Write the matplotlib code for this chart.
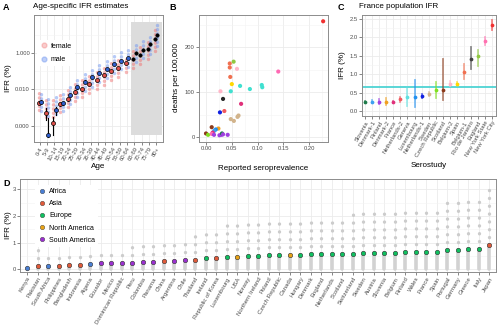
import numpy as np
import matplotlib
matplotlib.use("Agg")
import matplotlib.pyplot as plt
from matplotlib.lines import Line2D
from matplotlib.ticker import FixedLocator, NullFormatter

plt.rcParams["font.family"] = ["Liberation Sans", "DejaVu Sans"]

# ---------------- data: panel A (log10 IFR %) ----------------
ages = ["0-4", "5-9", "10-14", "15-19", "20-24", "25-29", "30-34", "35-39", "40-44",
        "45-49", "50-54", "55-59", "60-64", "65-69", "70-74", "75-79", "80+"]
female_mean = [-2.73, -3.32, -3.83, -2.83, -2.55, -2.13, -2.0, -1.71, -1.49, -1.23, -1.01, -0.83, -0.55, -0.35, -0.09, 0.22, 0.77]
male_mean = [-2.68, -4.51, -3.14, -2.77, -2.31, -1.89, -1.58, -1.34, -1.08, -0.9, -0.61, -0.42, -0.29, 0.02, 0.17, 0.50, 0.99]
female_ci_lo = [-2.82, -3.69, -4.5, -2.92, -2.62, -2.2, -2.07, -1.77, -1.55, -1.29, -1.07, -0.88, -0.6, -0.4, -0.14, 0.17, 0.72]
female_ci_hi = [-2.64, -3.05, -3.5, -2.74, -2.48, -2.06, -1.93, -1.65, -1.43, -1.17, -0.95, -0.78, -0.5, -0.3, -0.04, 0.27, 0.82]
male_ci_lo = [-2.77, -4.6, -3.4, -2.86, -2.38, -1.96, -1.65, -1.4, -1.14, -0.96, -0.67, -0.47, -0.34, -0.03, 0.12, 0.45, 0.94]
male_ci_hi = [-2.59, -3.6, -2.95, -2.68, -2.24, -1.82, -1.51, -1.28, -1.02, -0.84, -0.55, -0.37, -0.24, 0.07, 0.22, 0.55, 1.04]
# spread of the individual estimates (cloud)
female_lo = [-3.15, -3.5, -3.55, -3.25, -3.0, -2.65, -2.45, -2.2, -2.0, -1.75, -1.5, -1.3, -1.05, -0.8, -0.6, -0.35, 0.1]
female_hi = [-2.15, -2.6, -2.6, -2.3, -2.0, -1.7, -1.5, -1.25, -1.0, -0.8, -0.55, -0.35, -0.15, 0.1, 0.35, 0.7, 1.25]
male_lo = [-3.2, -3.45, -3.35, -3.2, -2.8, -2.4, -2.1, -1.85, -1.6, -1.4, -1.1, -0.9, -0.75, -0.5, -0.3, -0.05, 0.4]
male_hi = [-2.1, -2.55, -2.45, -2.2, -1.8, -1.4, -1.1, -0.85, -0.6, -0.4, -0.15, 0.05, 0.2, 0.5, 0.7, 1.0, 1.55]

# ---------------- data: panel B ----------------
sero = [0.227, 0.140, 0.0535, 0.046, 0.046, 0.060, 0.047, 0.050, 0.066, 0.085, 0.108, 0.109, 0.048,
        0.028, 0.033, 0.0355, 0.027, 0.068, 0.048, 0.054, 0.061, 0.063, 0.011, 0.000, 0.004, 0.024,
        0.019, 0.016, 0.013, 0.011, 0.0155, 0.026, 0.030, 0.031, 0.042, 0.033]
deaths = [258, 146, 168, 164, 155, 152, 134, 118, 114, 107, 116, 111, 102,
          102, 85, 58, 55, 74, 40, 36, 45, 48, 22, 8, 5, 19,
          17, 14, 10, 7, 5, 4, 5, 8, 5, 6]
b_colors = ["#F03030", "#FF69B4", "#90C840", "#F07050", "#F07050", "#FFB6C8", "#F07050", "#FFD700",
            "#40E0D0", "#40E0D0", "#40E0D0", "#40E0D0", "#40E0D0", "#FFB6C8", "#262626", "#F05A60",
            "#1020E0", "#E0307A", "#D2B48C", "#D2B48C", "#D2B48C", "#D2B48C", "#8B3A1A", "#8B3A1A",
            "#80E020", "#F0A020", "#2090F0", "#3DA0F0", "#E0307A", "#FF69B4", "#A040E0", "#A040E0",
            "#A040E0", "#1E7B4A", "#A040E0", "#A040E0"]

# ---------------- data: panel C ----------------
studies = ["Slovenia", "Denmark-1", "Finland", "Denmark-2", "France", "Netherlands-2", "Geneva",
           "Luxembourg", "Netherlands-1", "Sweden", "Czech Republic", "Scotland", "Belgium-2",
           "Spain", "Belgium-1", "Rio de Janeiro", "England", "New York State", "New York City"]
c_ifr = [0.234, 0.25, 0.25, 0.25, 0.25, 0.315, 0.39, 0.39, 0.41, 0.46, 0.56, 0.57, 0.745, 0.745,
         1.06, 1.4, 1.5, 1.89, 2.32]
c_lo = [0.21, 0.21, 0.18, 0.17, 0.22, 0.24, 0.14, 0.10, 0.36, 0.42, 0.36, 0.30, 0.68, 0.70,
        0.88, 1.15, 1.22, 1.80, 2.19]
c_hi = [0.27, 0.29, 0.32, 0.34, 0.28, 0.39, 0.64, 0.84, 0.46, 0.51, 0.79, 1.40, 0.82, 0.79,
        1.26, 1.74, 1.65, 2.00, 2.46]
c_colors = ["#1E7B4A", "#3DA0F0", "#A040E0", "#F0A020", "#E0307A", "#F05A60", "#60E0E0",
            "#2090F0", "#1020E0", "#D2B48C", "#80E020", "#8B3A1A", "#FFB6C8", "#FFD700",
            "#F07050", "#404040", "#90C840", "#FF70B0", "#F03030"]
france_ifr = 0.645

# ---------------- data: panel D ----------------
countries = ["Kenya", "Pakistan", "South Africa", "Philippines", "Bangladesh", "Indonesia", "Algeria",
             "Ecuador", "Mexico", "Dominican Republic", "Peru", "Colombia", "Panama", "China",
             "Argentina", "Chile", "Thailand", "Ireland", "Republic of Korea", "Luxembourg", "USA",
             "Norway", "Northern Ireland", "Poland", "Czech Republic", "Canada", "Hungary", "Denmark",
             "England", "Netherlands", "Scotland", "Switzerland", "Sweden", "Austria", "Slovenia",
             "Belgium", "Finland", "Wales", "France", "Spain", "Portugal", "Germany", "Greece",
             "Italy", "Japan"]
continent = ["Africa", "Asia", "Africa", "Asia", "Asia", "Asia", "Africa",
             "South America", "South America", "South America", "South America", "South America",
             "South America", "Asia", "South America", "South America", "Asia", "Europe", "Asia",
             "Europe", "North America", "Europe", "Europe", "Europe", "Europe", "North America",
             "Europe", "Europe", "Europe", "Europe", "Europe", "Europe", "Europe", "Europe", "Europe",
             "Europe", "Europe", "Europe", "Europe", "Europe", "Europe", "Europe", "Europe",
             "Europe", "Asia"]
d_ifr = [0.06, 0.12, 0.14, 0.14, 0.16, 0.16, 0.20, 0.22, 0.22, 0.22, 0.25, 0.26, 0.26, 0.30,
         0.31, 0.35, 0.36, 0.41, 0.44, 0.47, 0.47, 0.51, 0.51, 0.52, 0.53, 0.53, 0.53, 0.57,
         0.58, 0.58, 0.58, 0.58, 0.60, 0.60, 0.61, 0.61, 0.64, 0.64, 0.65, 0.65, 0.72, 0.73,
         0.77, 0.77, 0.90]
d_alt_hi = [0.30, 0.75, 0.50, 0.52, 0.60, 0.62, 0.70, 0.78, 0.80, 0.80, 0.88, 0.90, 0.93, 1.05,
            1.16, 1.20, 1.29, 1.46, 1.60, 1.67, 1.71, 1.84, 1.81, 1.84, 1.86, 1.86, 1.86, 2.00,
            2.05, 2.05, 2.05, 2.10, 2.16, 2.16, 2.16, 2.19, 2.27, 2.27, 2.30, 2.34, 2.52, 2.60,
            2.73, 2.75, 3.20]
cont_names = ["Africa", "Asia", "Europe", "North America", "South America"]
cont_colors = ["#4A7FD4", "#E05A3A", "#10C060", "#E8A317", "#9B30D0"]

GRID = "#EBEBEB"
TXT = "#4D4D4D"
DOTS = (0, (0.05, 1.15))


def style(ax):
    for s in ax.spines.values():
        s.set_color("#8C8C8C")
        s.set_linewidth(0.7)
    ax.tick_params(which="major", length=2, width=0.5, color="#555555",
                   labelsize=4.2, labelcolor=TXT, pad=1)
    ax.tick_params(which="minor", length=0)
    ax.grid(True, which="major", color=GRID, lw=0.6)
    ax.grid(True, which="minor", color="#F3F3F3", lw=0.4)
    ax.set_axisbelow(True)


fig = plt.figure(figsize=(5, 3.34), dpi=100)
W, H = 500, 334


def add_ax(l, t, r, b):
    return fig.add_axes([l / W, 1 - b / H, (r - l) / W, (b - t) / H])


def ftext(x, y, s, **kw):
    fig.text(x / W, 1 - y / H, s, **kw)


# ================= A =================
axA = add_ax(34, 15, 163, 142)
style(axA)
xa = np.arange(len(ages))
off = 0.18
axA.add_patch(plt.Rectangle((12.5, 10 ** -4.52), 4.25, 10 ** 1.72 - 10 ** -4.52,
                            color="#DCDCDC", lw=0, zorder=0.8))
for i in xa:
    axA.plot([i - off] * 2, [10 ** female_lo[i], 10 ** female_hi[i]], color="#F07070", alpha=0.5,
             lw=2.5, ls=DOTS, dash_capstyle="round", zorder=2)
    axA.plot([i + off] * 2, [10 ** male_lo[i], 10 ** male_hi[i]], color="#7096F0", alpha=0.5,
             lw=2.5, ls=DOTS, dash_capstyle="round", zorder=2)
    axA.plot([i - off] * 2, [10 ** female_ci_lo[i], 10 ** female_ci_hi[i]], color="black", lw=0.8, zorder=3)
    axA.plot([i + off] * 2, [10 ** male_ci_lo[i], 10 ** male_ci_hi[i]], color="black", lw=0.8, zorder=3)
    old = i >= 13
    axA.plot(i - off, 10 ** female_mean[i], "o", ms=2.9 if not old else 2.4,
             mfc="black" if old else "#E0504A", mec="black", mew=0.5, zorder=4)
    axA.plot(i + off, 10 ** male_mean[i], "o", ms=2.9 if not old else 2.4,
             mfc="black" if old else "#3060D0", mec="black", mew=0.5, zorder=4)
axA.set_yscale("log")
axA.set_ylim(10 ** -4.9, 10 ** 2.09)
axA.set_xlim(-0.8, 16.95)
axA.yaxis.set_major_locator(FixedLocator([1e-4, 1e-2, 1]))
axA.set_yticklabels(["0.000", "0.010", "1.000"])
axA.yaxis.set_minor_locator(FixedLocator([1e-3, 1e-1, 10]))
axA.yaxis.set_minor_formatter(NullFormatter())
axA.set_xticks(xa)
axA.set_xticklabels(ages, rotation=60, ha="right", rotation_mode="anchor")
hA = [Line2D([], [], ls="", marker="o", ms=3.5, color="#F07070", alpha=0.35),
      Line2D([], [], ls="", marker="o", ms=3.5, color="#7096F0", alpha=0.45)]
axA.legend(hA, ["female", "male"], loc="upper left", bbox_to_anchor=(0.0, 0.83), frameon=True,
           facecolor="white", edgecolor="none", framealpha=1, fontsize=5, handletextpad=0.3,
           handlelength=1.2, labelspacing=0.9, borderpad=0.4)

# ================= B =================
axB = add_ax(199, 15, 328, 142)
style(axB)
axB.scatter(sero, deaths, s=9, c=b_colors, linewidths=0, zorder=3)
axB.set_xlim(-0.0136, 0.2364)
axB.set_ylim(-11, 272)
axB.set_xticks([0, 0.05, 0.10, 0.15, 0.20])
axB.set_xticklabels(["0.00", "0.05", "0.10", "0.15", "0.20"])
axB.set_yticks([0, 100, 200])
axB.xaxis.set_minor_locator(FixedLocator([0.025, 0.075, 0.125, 0.175, 0.225]))
axB.yaxis.set_minor_locator(FixedLocator([50, 150, 250]))

# ================= C =================
axC = add_ax(362, 15, 496, 116)
style(axC)
xc = np.arange(len(studies))
axC.axhspan(france_ifr - 0.026, france_ifr + 0.026, color="#4CD3D3", alpha=0.9, lw=0, zorder=1.5)
for i in xc:
    axC.plot([i, i], [c_lo[i], c_hi[i]], color=c_colors[i], lw=1.3, alpha=0.6, zorder=2)
    axC.plot(i, c_ifr[i], "o", ms=2.7, color=c_colors[i], mew=0, zorder=3)
axC.set_xlim(-0.45, 18.55)
axC.set_ylim(-0.135, 2.6)
axC.set_yticks([0, 0.5, 1.0, 1.5, 2.0, 2.5])
axC.set_yticklabels(["0.0", "0.5", "1.0", "1.5", "2.0", "2.5"])
axC.yaxis.set_minor_locator(FixedLocator([0.25, 0.75, 1.25, 1.75, 2.25]))
axC.set_xticks(xc)
axC.set_xticklabels(studies, rotation=60, ha="right", rotation_mode="anchor")

# ================= D =================
axD = add_ax(20, 179, 496, 272)
style(axD)
xd = np.arange(len(countries))
for i in xd:
    axD.plot([i, i], [0.02, d_ifr[i]], color="#D2D2D2", lw=2.6, solid_capstyle="round", zorder=2)
    axD.plot([i, i], [d_ifr[i], d_alt_hi[i]], color="#CCCCCC", lw=2.4, ls=(0, (0.05, 2.3)),
             dash_capstyle="round", zorder=2)
    axD.plot(i, d_ifr[i], "o", ms=3.2, mfc=cont_colors[cont_names.index(continent[i])],
             mec="#333333", mew=0.4, zorder=3)
axD.set_xlim(-0.67, 44.64)
axD.set_ylim(-0.1, 3.38)
axD.set_yticks([0, 1, 2, 3])
axD.yaxis.set_minor_locator(FixedLocator([0.5, 1.5, 2.5]))
axD.set_xticks(xd)
axD.set_xticklabels(countries, rotation=60, ha="right", rotation_mode="anchor", fontsize=4.3)
hD = [Line2D([], [], ls="", marker="o", ms=3.2, mfc=c, mec="#333333", mew=0.3) for c in cont_colors]
axD.legend(hD, cont_names, loc="upper left", bbox_to_anchor=(0.025, 0.97), frameon=True,
           facecolor="white", edgecolor="none", framealpha=1, fontsize=5, handletextpad=0.6,
           handlelength=1.0, labelspacing=0.75, borderpad=0.4)

# ================= labels =================
lab = dict(fontsize=5.8, color="black", ha="center", va="center")
ftext(98, 167, "Age", **lab)
ftext(263, 168, "Reported seroprevalence", **lab)
ftext(429, 165, "Serostudy", **lab)
ftext(9, 78, "IFR (%)", rotation=90, **lab)
ftext(176, 78, "deaths per 100,000", rotation=90, **lab)
ftext(342, 65, "IFR (%)", rotation=90, **lab)
ftext(9, 225, "IFR (%)", rotation=90, **lab)
ftext(33, 7, "Age-specific IFR estimates", fontsize=5.8, ha="left", va="center")
ftext(359, 7, "France population IFR", fontsize=5.8, ha="left", va="center")
pl = dict(fontsize=6.5, fontweight="bold", ha="left", va="center")
ftext(3, 7, "A", **pl)
ftext(169, 7, "B", **pl)
ftext(338, 7, "C", **pl)
ftext(3, 184, "D", **pl)

fig.savefig("out.png", dpi=100)
